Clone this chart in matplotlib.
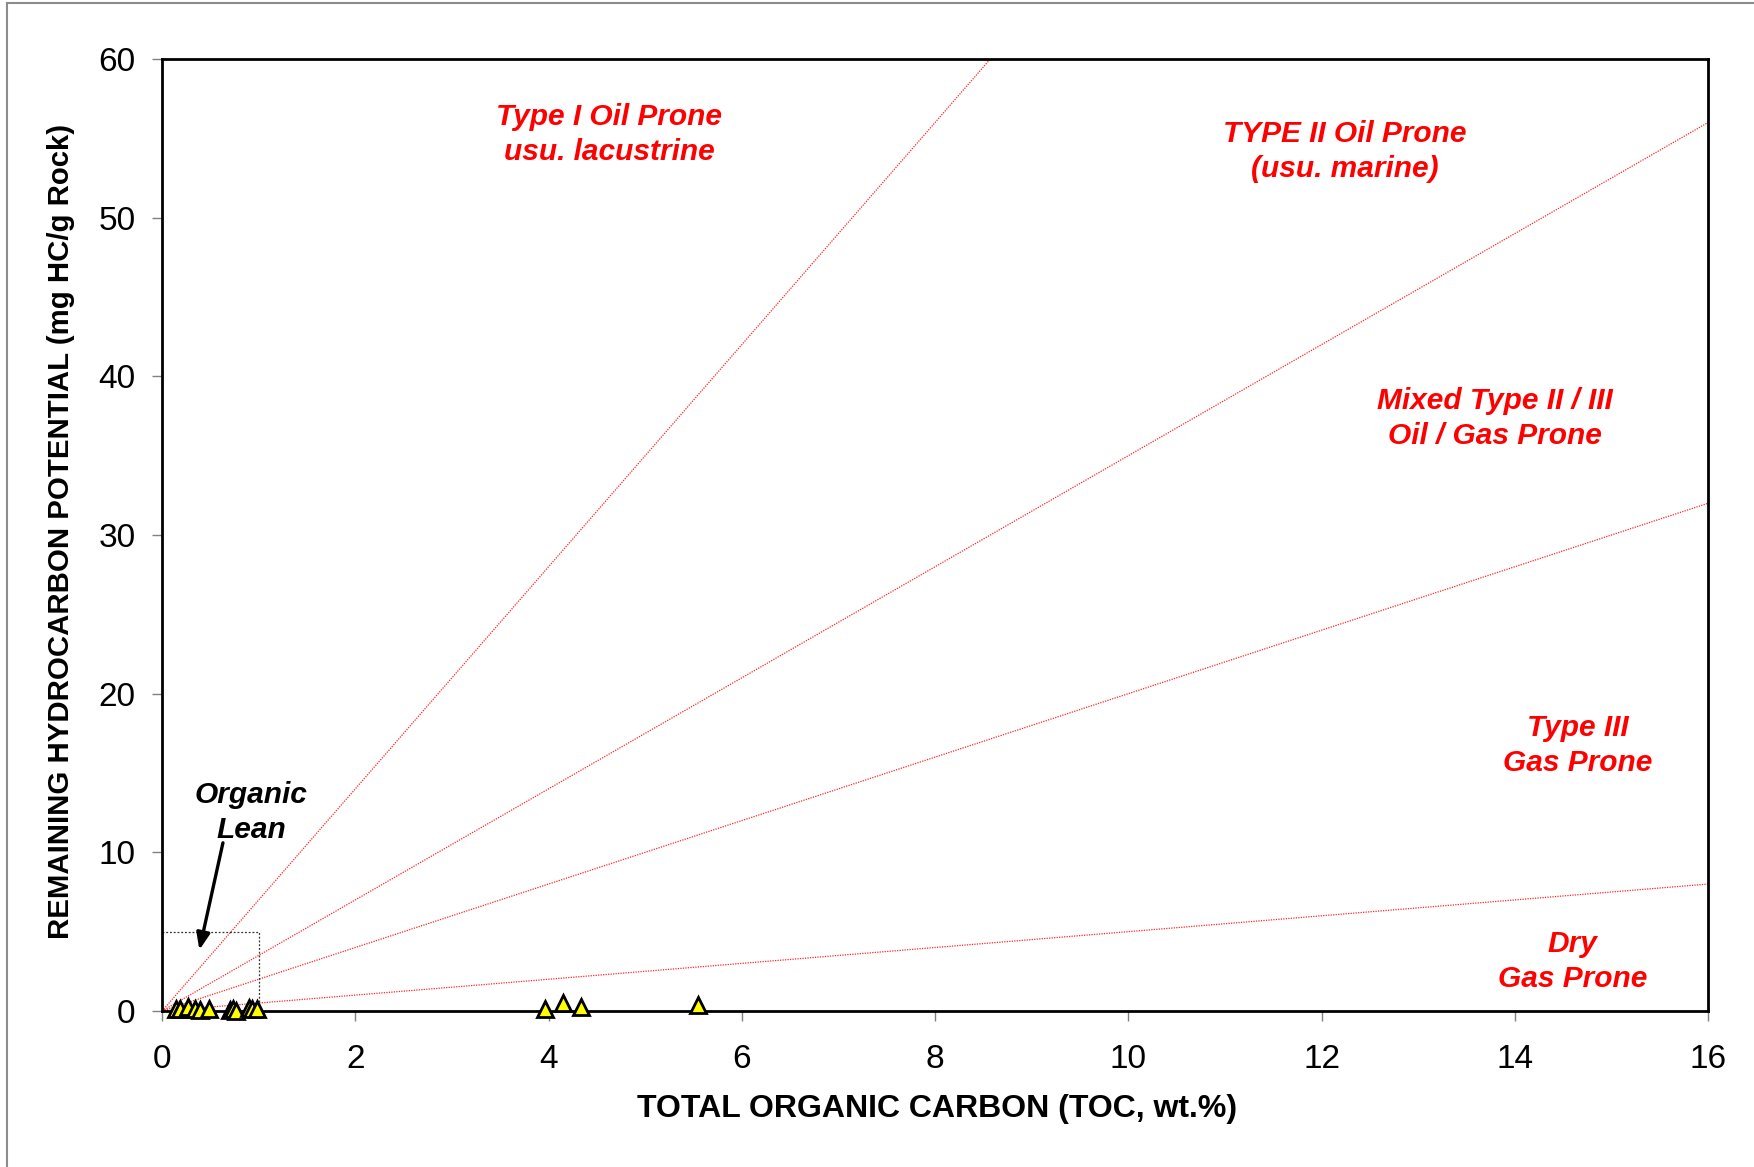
import matplotlib
matplotlib.use("Agg")
import matplotlib.pyplot as plt
from matplotlib.lines import Line2D
import numpy as np

plt.rcParams['font.family'] = ['Liberation Sans', 'DejaVu Sans']

# ---- data ----
toc = [0.145, 0.19, 0.265, 0.34, 0.39, 0.49, 0.70, 0.73, 0.77, 0.90, 0.93, 0.98,
       3.96, 4.15, 4.34, 5.55]
s2 = [0.10, 0.15, 0.25, 0.10, 0.06, 0.10, 0.06, 0.10, 0.00, 0.20, 0.15, 0.10,
      0.15, 0.48, 0.27, 0.36]

# HI boundary lines (S2 = slope * TOC)
slopes = [7.0, 3.5, 2.0, 0.5]

zone_labels = ["Type I Oil Prone\nusu. lacustrine",
               "TYPE II Oil Prone\n(usu. marine)",
               "Mixed Type II / III\nOil / Gas Prone",
               "Type III\nGas Prone",
               "Dry\nGas Prone"]
zone_pos = [(4.63, 55.25), (12.24, 54.15), (13.79, 37.35), (14.65, 16.75), (14.6, 3.12)]

x_ticks = [0, 2, 4, 6, 8, 10, 12, 14, 16]
y_ticks = [0, 10, 20, 30, 40, 50, 60]

lean_toc, lean_s2 = 1.0, 5.0

# ---- figure ----
fig = plt.figure(figsize=(17.54, 11.67), dpi=100)
ax = fig.add_axes([0.0924, 0.1337, 0.9738 - 0.0924, 0.9494 - 0.1337])

xx = np.array([0, 16])
for s in slopes:
    ax.plot(xx, s * xx, color='red', lw=0.9, ls=(0, (1, 1)), alpha=0.85, zorder=2)

# organic lean box
ax.plot([0, lean_toc, lean_toc], [lean_s2, lean_s2, 0], color='#333333',
        lw=0.9, ls=(0, (1.5, 1.5)), zorder=2)

ax.plot(toc, s2, ls='none', marker='^', ms=11.5, mfc='#FFFF00', mec='black',
        mew=2.0, zorder=5, clip_on=False)

for lab, (x, y) in zip(zone_labels, zone_pos):
    ax.text(x, y, lab, color='#FF0000', fontsize=21.5, fontweight='bold',
            fontstyle='italic', ha='center', va='center', linespacing=1.32)

ax.text(0.92, 12.5, "Organic\nLean", color='black', fontsize=21.5, fontweight='bold',
        fontstyle='italic', ha='center', va='center', linespacing=1.32)
ax.annotate("", xy=(0.386, 3.85), xytext=(0.63, 10.6),
            arrowprops=dict(arrowstyle='-|>,head_length=1.0,head_width=0.4',
                            color='black', lw=2.4, shrinkA=0, shrinkB=0))

ax.set_xlim(0, 16)
ax.set_ylim(0, 60)
ax.set_xticks(x_ticks)
ax.set_yticks(y_ticks)
ax.set_xticklabels([str(v) for v in x_ticks])
ax.set_yticklabels([str(v) for v in y_ticks])
ax.tick_params(axis='x', direction='out', length=7, width=1, color='#808080',
               labelsize=24, pad=17)
ax.tick_params(axis='y', direction='out', length=7, width=1, color='#808080',
               labelsize=24, pad=12)
for sp in ax.spines.values():
    sp.set_linewidth(2.0)
    sp.set_color('black')

fig.text(0.534, 0.0495, "TOTAL ORGANIC CARBON (TOC, wt.%)", fontsize=23,
         fontweight='bold', ha='center', va='center')
fig.text(0.035, 0.545, "REMAINING HYDROCARBON POTENTIAL (mg HC/g Rock)", fontsize=21.2,
         fontweight='bold', ha='center', va='center', rotation=90)

# outer frame (left and top)
fig.add_artist(Line2D([0.004, 0.004], [0, 0.9974], transform=fig.transFigure,
                      color='#8c8c8c', lw=1.5))
fig.add_artist(Line2D([0.004, 1.0], [0.9974, 0.9974], transform=fig.transFigure,
                      color='#8c8c8c', lw=1.5))

fig.savefig("out.png", dpi=100, facecolor='white')
